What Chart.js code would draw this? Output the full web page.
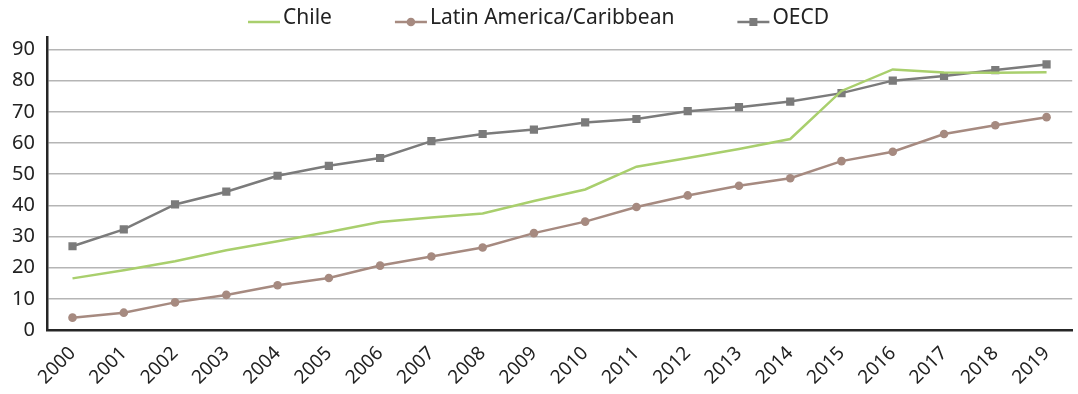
<!DOCTYPE html>
<html>
<head>
<meta charset="utf-8">
<script src="https://cdn.jsdelivr.net/npm/chart.js@4"></script>
<style>
  body { margin: 0; background: #fff; }
  #wrap { width: 1078px; height: 394px; }
</style>
</head>
<body>
<div id="wrap"><canvas id="chart"></canvas></div>
<script>
// data
const years = ['2000','2001','2002','2003','2004','2005','2006','2007','2008','2009',
               '2010','2011','2012','2013','2014','2015','2016','2017','2018','2019'];
const chile = [16.6, 19.2, 22.1, 25.6, 28.5, 31.5, 34.7, 36.1, 37.4, 41.4,
               45.1, 52.4, 55.2, 58.1, 61.3, 76.7, 83.6, 82.6, 82.5, 82.7];
const latam = [4.0, 5.6, 8.9, 11.3, 14.4, 16.7, 20.7, 23.6, 26.5, 31.1,
               34.8, 39.5, 43.2, 46.3, 48.7, 54.2, 57.2, 62.9, 65.7, 68.3];
const oecd  = [26.9, 32.3, 40.3, 44.4, 49.5, 52.7, 55.2, 60.6, 62.9, 64.3,
               66.6, 67.7, 70.2, 71.5, 73.3, 76.0, 80.0, 81.5, 83.4, 85.2];
const yTicks = [0, 10, 20, 30, 40, 50, 60, 70, 80, 90];

const GREEN = '#a9cf6d';
const BROWN = '#a68a80';
const GREY = '#7b7b7b';
const TEXT = '#222';
const FONT = 'Noto Sans';

// legend drawn like the excel one: line + marker, then the name
const lineLegend = {
  id: 'lineLegend',
  afterDraw(chart) {
    const c = chart.ctx;
    c.save();
    c.font = '21px "' + FONT + '"';
    c.textBaseline = 'middle';
    let x = 248;
    chart.data.datasets.forEach(ds => {
      c.strokeStyle = ds.borderColor;
      c.lineWidth = 2.5;
      c.beginPath(); c.moveTo(x, 22); c.lineTo(x + 32, 22); c.stroke();
      c.fillStyle = ds.borderColor;
      if (ds.pointStyle === 'circle' && ds.pointRadius > 0) {
        c.beginPath(); c.arc(x + 16, 22, 4.3, 0, Math.PI * 2); c.fill();
      } else if (ds.pointStyle === 'rect' && ds.pointRadius > 0) {
        c.fillRect(x + 12, 18, 8, 8);
      }
      c.fillStyle = TEXT;
      c.fillText(ds.label, x + 35, 18);
      x += 35 + c.measureText(ds.label).width + 63;
    });
    c.restore();
  }
};

const ctx = document.getElementById('chart').getContext('2d');
new Chart(ctx, {
  type: 'line',
  data: {
    labels: years,
    datasets: [
      { label: 'Chile', data: chile, borderColor: GREEN, backgroundColor: GREEN,
        borderWidth: 2.5, pointRadius: 0, pointHoverRadius: 0 },
      { label: 'Latin America/Caribbean', data: latam, borderColor: BROWN, backgroundColor: BROWN,
        borderWidth: 2.5, pointStyle: 'circle', pointRadius: 4.3, pointBorderWidth: 0 },
      { label: 'OECD', data: oecd, borderColor: GREY, backgroundColor: GREY,
        borderWidth: 2.5, pointStyle: 'rect', pointRadius: 5.8, pointBorderWidth: 0 }
    ]
  },
  options: {
    responsive: true,
    maintainAspectRatio: false,
    animation: false,
    layout: { padding: { left: 0, right: 0, top: 37, bottom: 1 } },
    plugins: {
      tooltip: { enabled: false },
      legend: { display: false }
    },
    scales: {
      x: {
        offset: true,
        grid: { display: false },
        border: { display: true, color: '#262626', width: 2.5 },
        ticks: {
          minRotation: 45, maxRotation: 45, color: TEXT, padding: 4,
          font: { family: FONT, size: 19 }
        }
      },
      y: {
        min: 0, max: 94,
        afterBuildTicks: function (axis) {
          axis.ticks = yTicks.map(v => ({ value: v }));
        },
        grid: { color: '#b5b5b5', lineWidth: 1.6, drawTicks: false },
        border: { display: true, color: '#262626', width: 2.5 },
        ticks: {
          color: TEXT, padding: 12,
          font: { family: FONT, size: 20 }
        }
      }
    }
  },
  plugins: [lineLegend]
});
</script>
</body>
</html>
